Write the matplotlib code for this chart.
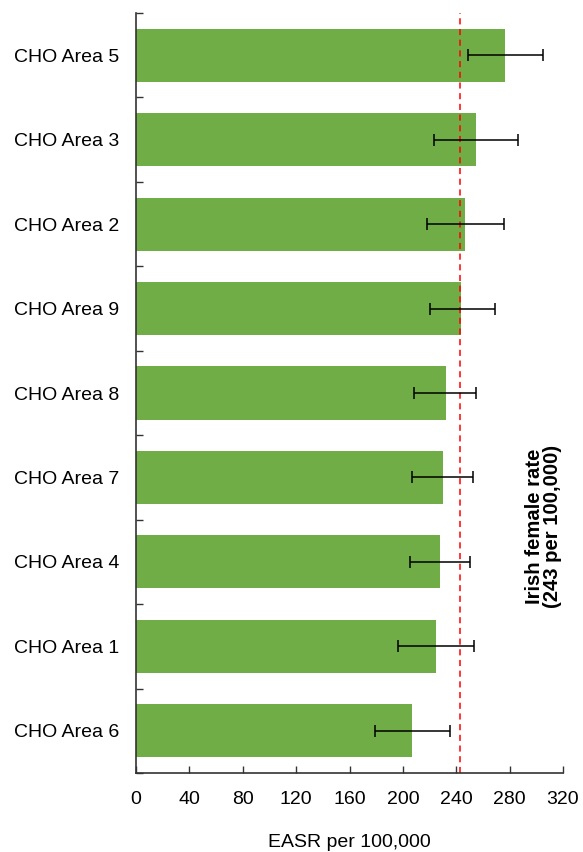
import matplotlib
matplotlib.use("Agg")
import matplotlib.pyplot as plt
import numpy as np

plt.rcParams['font.family'] = ['Liberation Sans', 'DejaVu Sans']

# Age-standardised rates by CHO area (top to bottom)
areas = ["CHO Area 5", "CHO Area 3", "CHO Area 2", "CHO Area 9", "CHO Area 8",
         "CHO Area 7", "CHO Area 4", "CHO Area 1", "CHO Area 6"]
easr = [276.5, 254.5, 246.5, 243.5, 232.0, 230.0, 227.5, 225.0, 206.5]
ci_low = [249.0, 223.5, 218.0, 220.0, 208.0, 207.0, 205.5, 196.5, 179.0]
ci_high = [305.0, 286.0, 275.5, 269.0, 255.0, 252.5, 250.0, 253.5, 235.0]
national_rate = 243
xticks = [0, 40, 80, 120, 160, 200, 240, 280, 320]

fig = plt.figure(figsize=(5.83, 8.52), dpi=100)
ax = fig.add_axes([136/583, 1 - 773/852, 427/583, 760/852])

y = np.arange(len(areas))[::-1]
vals = np.array(easr)
err = [vals - np.array(ci_low), np.array(ci_high) - vals]

ax.barh(y, vals, height=0.63, color="#70AD47", zorder=1)
ax.errorbar(vals, y, xerr=err, fmt="none", ecolor="black", elinewidth=1.1,
            capsize=4, capthick=1.1, zorder=3)
ax.axvline(national_rate, color="#FF0000", linestyle=(0, (4, 3)), linewidth=1.1, zorder=2)

ax.set_xlim(0, 320)
ax.set_ylim(-0.5, len(areas) - 0.5)
ax.set_xticks(xticks)
ax.set_xticklabels([str(t) for t in xticks], fontsize=14)
ax.set_yticks(y)
ax.set_yticklabels(areas, fontsize=14)
ax.tick_params(axis='y', which='major', length=0, pad=12)
ax.set_yticks(np.arange(-0.5, len(areas), 1.0), minor=True)
ax.tick_params(axis='y', which='minor', direction='in', length=5, width=1, color="#333333")
ax.tick_params(axis='x', which='major', direction='in', length=5, width=1, color="#333333", pad=13)

for s in ("top", "right"):
    ax.spines[s].set_visible(False)
for s in ("left", "bottom"):
    ax.spines[s].set_color("#333333")
    ax.spines[s].set_linewidth(1.2)

ax.set_xlabel("EASR per 100,000", fontsize=14, labelpad=19)

fig.text(543.5/583, 1 - 526/852, "Irish female rate\n(243 per 100,000)", rotation=90,
         ha="center", va="center", fontsize=14.6, fontweight="bold", linespacing=0.88)

fig.savefig("out.png", dpi=100)
